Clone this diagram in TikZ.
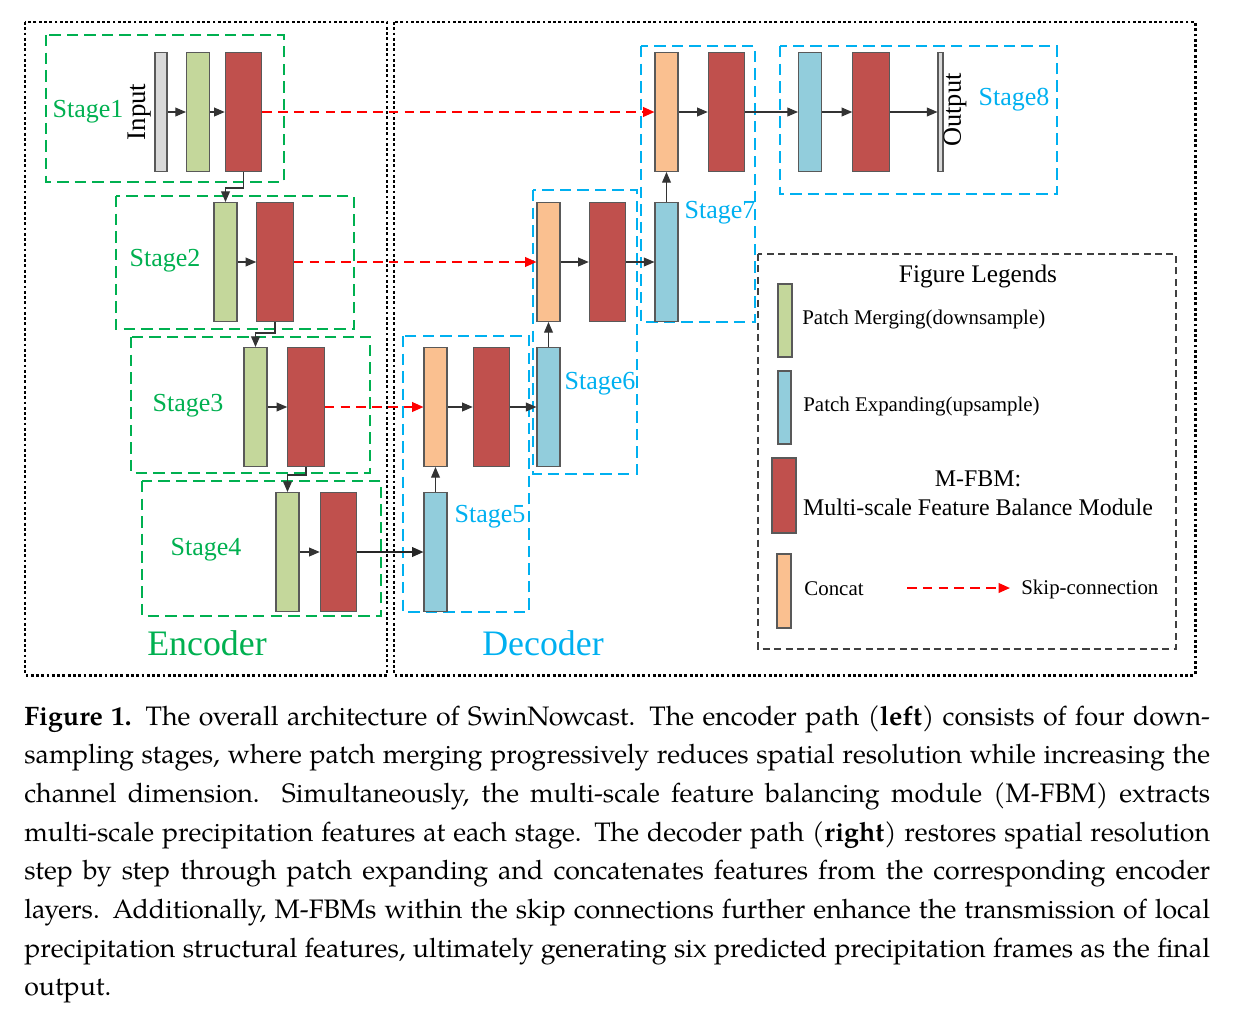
\documentclass[tikz,border=0pt]{standalone}
\usepackage{fontspec}
\setmainfont{Liberation Serif}
\newfontfamily\capfont{texgyrepagella}[Extension=.otf,UprightFont=*-regular,BoldFont=*-bold]
\usetikzlibrary{arrows.meta}
\definecolor{cgreen}{HTML}{C4D79B}
\definecolor{cred}{HTML}{C0504D}
\definecolor{cblue}{HTML}{92CDDC}
\definecolor{corange}{HTML}{FAC090}
\definecolor{cgray}{HTML}{D9D9D9}
\definecolor{sgreen}{HTML}{00B050}
\definecolor{scyan}{HTML}{00B0F0}
\definecolor{edgec}{HTML}{595959}
\begin{document}
\begin{tikzpicture}[x=0.02cm,y=-0.02cm,
  bar/.style={draw=edgec, line width=0.6pt, inner sep=0, minimum height=2.38cm},
  nb/.style={bar, minimum width=0.46cm},
  wb/.style={bar, minimum width=0.73cm, fill=cred},
  arr/.style={draw=black!80, line width=0.6pt, -{Triangle[length=6pt,width=5pt]}},
  thickarr/.style={draw=black!85, line width=1pt, -{Triangle[length=6.5pt,width=5.5pt]}},
  skip/.style={draw=red, line width=1.1pt, dash pattern=on 5.5pt off 3.5pt, -{Triangle[length=6.5pt,width=5.5pt]}},
  gbox/.style={draw=sgreen, line width=1pt, dash pattern=on 6.5pt off 3.5pt},
  cbox/.style={draw=scyan, line width=1pt, dash pattern=on 6.5pt off 3.5pt},
  obox/.style={draw=black, line width=1.7pt, dash pattern=on 1.6pt off 1.4pt},
  lbox/.style={draw=black!75, line width=0.8pt, dash pattern=on 4pt off 2.5pt},
  stg/.style={inner sep=0, font=\fontsize{14.8}{16}\selectfont},
  big/.style={inner sep=0, font=\fontsize{20.4}{22}\selectfont},
  lt/.style={inner sep=0, font=\fontsize{11.9}{14}\selectfont},
  capline/.style={anchor=base west, inner sep=0, font=\capfont\fontsize{15.2}{20}\selectfont}
]
\useasboundingbox (0,0) rectangle (1233,1018);

% outer boxes
\draw[obox] (25,22) rectangle (387,675);
\draw[obox] (394,22) rectangle (1195,675);

% stage boxes
\draw[gbox] (46,35) rectangle (284,182);
\draw[gbox] (116,196) rectangle (354,329);
\draw[gbox] (131,337) rectangle (370,473);
\draw[gbox] (142,481) rectangle (381,616);
\draw[cbox] (403,336) rectangle (529,612);
\draw[cbox] (533,190) rectangle (637,474);
\draw[cbox] (641,46) rectangle (755,322);
\draw[cbox] (780,46) rectangle (1057,194);
\draw[lbox] (758,254) rectangle (1176,649);

% encoder bars
\node[bar, fill=cgray, minimum width=0.24cm] (in) at (161,112) {};
\node[nb, fill=cgreen] (g1) at (198,112) {};
\node[wb] (r1) at (243.5,112) {};
\node[nb, fill=cgreen] (g2) at (225.5,262) {};
\node[wb] (r2) at (275,262) {};
\node[nb, fill=cgreen] (g3) at (255.5,407) {};
\node[wb] (r3) at (306,407) {};
\node[nb, fill=cgreen] (g4) at (287.5,552) {};
\node[wb] (r4) at (338.5,552) {};

% decoder bars
\node[nb, fill=cblue] (b5) at (435.5,552) {};
\node[nb, fill=corange] (c5) at (435.5,407) {};
\node[wb] (r5) at (491.5,407) {};
\node[nb, fill=cblue] (b6) at (548.5,407) {};
\node[nb, fill=corange] (c6) at (548.5,262) {};
\node[wb] (r6) at (607.5,262) {};
\node[nb, fill=cblue] (b7) at (666.5,262) {};
\node[nb, fill=corange] (c7) at (666.5,112) {};
\node[wb] (r7) at (726.5,112) {};
\node[nb, fill=cblue] (b8) at (810,112) {};
\node[wb] (r8) at (871,112) {};
\node[bar, fill=cgray, minimum width=0.1cm] (out) at (940.5,112) {};

% labels
\node[stg, rotate=90, font=\fontsize{15.3}{16}\selectfont] (intxt) at (140,112) {Input};
\node[stg, rotate=90, font=\fontsize{15}{16}\selectfont] (outtxt) at (955,110) {Output};
\node[stg, text=sgreen] (s1) at (88,112) {Stage1};
\node[stg, text=sgreen] (s2) at (165,261) {Stage2};
\node[stg, text=sgreen] (s3) at (188,406) {Stage3};
\node[stg, text=sgreen] (s4) at (206,550) {Stage4};
\node[stg, text=scyan] (s5) at (490,517) {Stage5};
\node[stg, text=scyan] (s6) at (600,384) {Stage6};
\node[stg, text=scyan] (s7) at (720,213) {Stage7};
\node[stg, text=scyan] (s8) at (1014,100) {Stage8};
\node[big, text=sgreen] (enc) at (207,643) {Encoder};
\node[big, text=scyan] (dec) at (543,643) {Decoder};

% encoder connectors
\draw[arr] (in) -- (g1);
\draw[arr] (g1) -- (r1);
\draw[arr] (r1.south) -- ++(0,16) -| (g2.north);
\draw[arr] (g2) -- (r2);
\draw[arr] (r2.south) -- ++(0,11) -| (g3.north);
\draw[arr] (g3) -- (r3);
\draw[arr] (r3.south) -- ++(0,8) -| (g4.north);
\draw[arr] (g4) -- (r4);
\draw[thickarr] (r4) -- (b5);

% decoder connectors
\draw[arr] (b5) -- (c5);
\draw[arr] (c5) -- (r5);
\draw[arr] (r5) -- (b6);
\draw[arr] (b6) -- (c6);
\draw[arr] (c6) -- (r6);
\draw[arr] (r6) -- (b7);
\draw[arr] (b7) -- (c7);
\draw[arr] (c7) -- (r7);
\draw[arr] (r7) -- (b8);
\draw[arr] (b8) -- (r8);
\draw[arr] (r8) -- (out);

% skip connections
\draw[skip] (r1) -- (c7);
\draw[skip] (r2) -- (c6);
\draw[skip] (r3) -- (c5);

% legend
\node[inner sep=0, font=\fontsize{14.4}{16}\selectfont] (lgt) at (978,276) {Figure Legends};
\node[bar, fill=cgreen, minimum width=0.28cm, minimum height=1.46cm] (lg) at (785,320.5) {};
\node[lt, anchor=west] (lgtxt) at (802,319) {Patch Merging(downsample)};
\node[bar, fill=cblue, minimum width=0.26cm, minimum height=1.46cm] (lb) at (784.5,407.5) {};
\node[lt, anchor=west] (lbtxt) at (803,406) {Patch Expanding(upsample)};
\node[bar, fill=cred, minimum width=0.48cm, minimum height=1.5cm] (lr) at (784,495.5) {};
\node[inner sep=0, font=\fontsize{13.6}{15}\selectfont] (lrt1) at (978,479) {M-FBM:};
\node[inner sep=0, font=\fontsize{13.6}{15}\selectfont] (lrt2) at (978,507) {Multi-scale Feature Balance Module};
\node[bar, fill=corange, minimum width=0.28cm, minimum height=1.48cm] (lc) at (784,591) {};
\node[lt, anchor=west] (lctxt) at (804,589) {Concat};
\coordinate (sk1) at (907,588);
\node[lt, anchor=west, inner xsep=0.22cm] (sktxt) at (1010,589) {Skip-connection};
\draw[skip] (sk1) -- (sktxt.west |- sk1);

% caption
\node[capline] (cap1) at (24,725) {\makebox[23.72cm][s]{\textbf{Figure 1.} The overall architecture of SwinNowcast. The encoder path (\textbf{left}) consists of four down-}};
\node[capline] (cap2) at (24,763.7) {\makebox[23.72cm][s]{sampling stages, where patch merging progressively reduces spatial resolution while increasing the}};
\node[capline] (cap3) at (24,802.4) {\makebox[23.72cm][s]{channel dimension.\ \ Simultaneously, the multi-scale feature balancing module (M-FBM) extracts}};
\node[capline] (cap4) at (24,841.1) {\makebox[23.72cm][s]{multi-scale precipitation features at each stage. The decoder path (\textbf{right}) restores spatial resolution}};
\node[capline] (cap5) at (24,879.8) {\makebox[23.72cm][s]{step by step through patch expanding and concatenates features from the corresponding encoder}};
\node[capline] (cap6) at (24,918.5) {\makebox[23.72cm][s]{layers. Additionally, M-FBMs within the skip connections further enhance the transmission of local}};
\node[capline] (cap7) at (24,957.2) {\makebox[23.72cm][s]{precipitation structural features, ultimately generating six predicted precipitation frames as the final}};
\node[capline] (cap8) at (24,995.9) {output.};
\end{tikzpicture}
\end{document}
